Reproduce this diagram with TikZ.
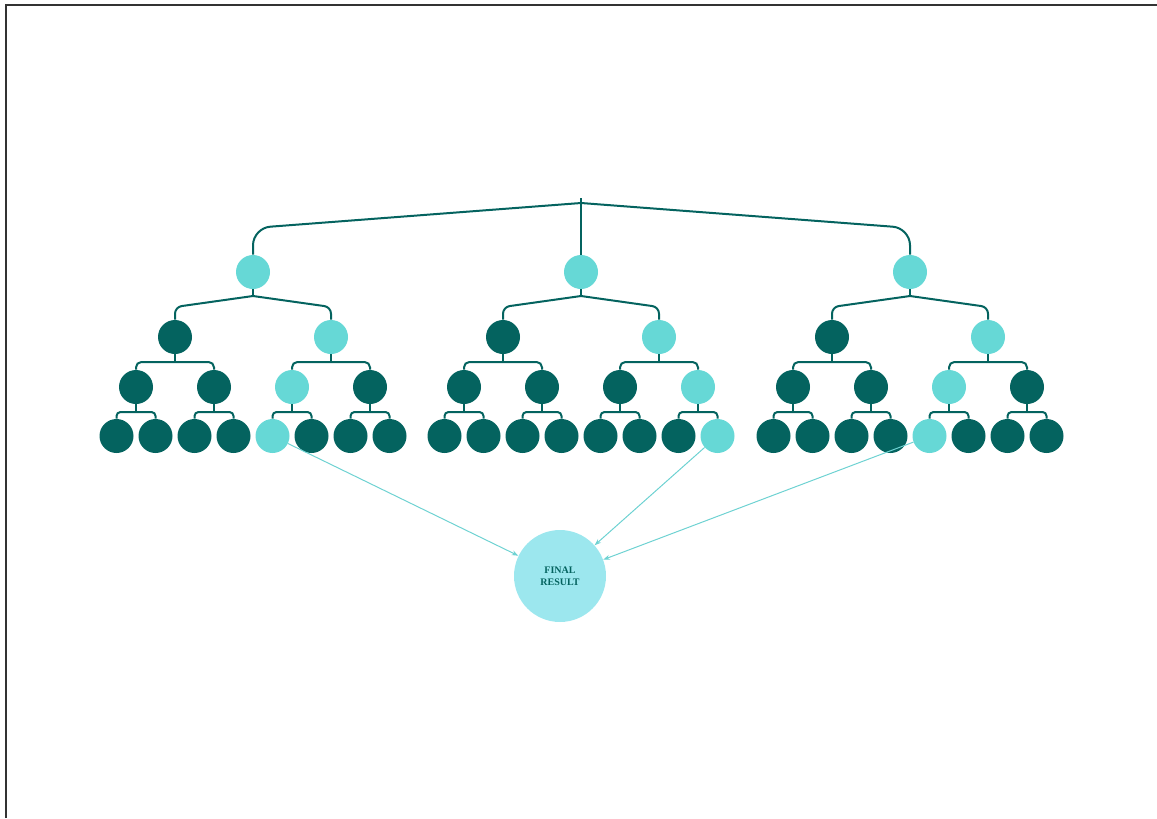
\documentclass[tikz,border=0pt]{standalone}
\usepackage{fontspec}
\setmainfont{Liberation Serif}
\usetikzlibrary{arrows.meta}
\definecolor{deepteal}{HTML}{04635F}
\definecolor{aqua}{HTML}{66D8D6}
\definecolor{pale}{HTML}{9CE7EE}
\definecolor{arrowc}{HTML}{6ED2D2}
\definecolor{frame}{HTML}{333333}
\tikzset{
  ball/.style={circle, inner sep=0pt, minimum size=25.5pt},
  darknode/.style={ball, fill=deepteal},
  lightnode/.style={ball, fill=aqua},
  link/.style={draw=deepteal, line width=1.5pt},
  feed/.style={draw=arrowc, line width=0.75pt, -{Stealth[length=5pt,width=3.6pt]}, shorten <=0pt},
  resultnode/.style={circle, fill=pale, minimum size=69pt, inner sep=0pt,
    text=deepteal, font=\bfseries\fontsize{7.5pt}{9pt}\selectfont, align=center}
}
\begin{document}
\begin{tikzpicture}[x=0.75pt, y=-0.75pt]
\useasboundingbox (0,0) rectangle (1157,818);
% page frame (top and left edges)
\draw[frame, line width=1pt] (6,818) -- (6,5) -- (1157,5);

% root junction
\coordinate (tick) at (581,198);
\coordinate (root) at (581,203);

\foreach \g/\X/\t/\l in {1/253/3/5, 2/581/4/8, 3/910/3/5} {
  % level 1
  \node[lightnode] (n\g) at (\X,272) {};
  % level 2
  \node[darknode]  (n\g a) at (\X-78,337) {};
  \node[lightnode] (n\g b) at (\X+78,337) {};
  % level 3
  \foreach \i/\dx in {1/-117, 2/-39, 3/39, 4/117} {
    \ifnum\i=\t \def\st{lightnode}\else\def\st{darknode}\fi
    \node[\st] (n\g c\i) at (\X+\dx,387) {};
  }
  % level 4 (leaves)
  \foreach \i/\dx in {1/-136.5, 2/-97.5, 3/-58.5, 4/-19.5, 5/19.5, 6/58.5, 7/97.5, 8/136.5} {
    \ifnum\i=\l \def\st{lightnode}\else\def\st{darknode}\fi
    \node[\st] (n\g d\i) at (\X+\dx,436) {};
  }
  % level 1 -> level 2 (sloped branches)
  \coordinate (j\g) at (\X,296);
  \draw[link] (n\g.south) -- (j\g);
  \draw[link, rounded corners=5pt] (j\g) -- (\X-78,307) -- (n\g a.north);
  \draw[link, rounded corners=5pt] (j\g) -- (\X+78,307) -- (n\g b.north);
  % level 2 -> level 3 (brackets)
  \foreach \p/\ca/\cb in {a/1/2, b/3/4} {
    \draw[link] (n\g\p.south) -- (n\g\p.south |- 0,362);
    \draw[link, rounded corners=4pt] (n\g c\ca.north) |- (n\g\p.south |- 0,362) -| (n\g c\cb.north);
  }
  % level 3 -> level 4 (brackets)
  \foreach \p/\ca/\cb in {1/1/2, 2/3/4, 3/5/6, 4/7/8} {
    \draw[link] (n\g c\p.south) -- (n\g c\p.south |- 0,412);
    \draw[link, rounded corners=3pt] (n\g d\ca.north) |- (n\g c\p.south |- 0,412) -| (n\g d\cb.north);
  }
}

% root -> level 1
\draw[link] (tick) -- (n2.north);
\draw[link, rounded corners=13pt] (root) -- (253,228) -- (n1.north);
\draw[link, rounded corners=13pt] (root) -- (910,228) -- (n3.north);

% result
\node[resultnode] (final) at (560,576) {FINAL\\RESULT};
\draw[feed] (n1d5) -- (final);
\draw[feed] (n2d8) -- (final);
\draw[feed] (n3d5) -- (final);
\end{tikzpicture}
\end{document}
